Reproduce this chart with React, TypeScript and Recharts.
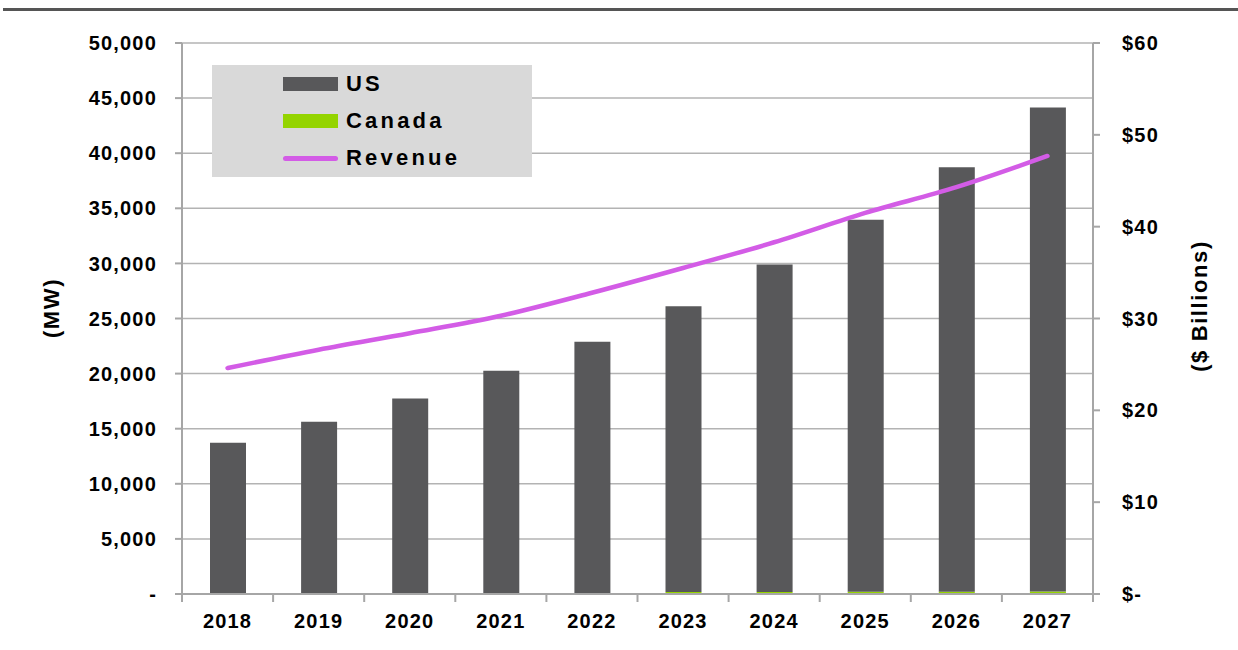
import React from 'react';
import {
  ComposedChart,
  Bar,
  Line,
  XAxis,
  YAxis,
  CartesianGrid,
} from 'recharts';

// values
const years = ['2018', '2019', '2020', '2021', '2022', '2023', '2024', '2025', '2026', '2027'];
const usMW = [13670, 15570, 17670, 20170, 22800, 25940, 29710, 33760, 38520, 43930];
const canadaMW = [50, 60, 70, 80, 90, 180, 190, 200, 210, 220];
const revenueBn = [24.6, 26.6, 28.4, 30.3, 32.8, 35.5, 38.3, 41.5, 44.3, 47.7];

const mwTicks = [0, 5000, 10000, 15000, 20000, 25000, 30000, 35000, 40000, 45000, 50000];
const bnTicks = [0, 10, 20, 30, 40, 50, 60];

const seriesNames = ['US', 'Canada', 'Revenue'];

const data = years.map((year, i) => ({
  year,
  us: usMW[i],
  canada: canadaMW[i],
  revenue: revenueBn[i],
}));

const W = 1238;
const H = 650;
const PLOT_LEFT = 182;
const PLOT_RIGHT = 1093;
const AXIS_Y = 594;

const FONT = '"Liberation Sans", Arial, sans-serif';
const GREY_AXIS = '#a6a6a6';
const US_COLOR = '#58585a';
const CANADA_COLOR = '#94d400';
const REVENUE_COLOR = '#d35ce6';

const tickStyle = {
  fontFamily: FONT,
  fontWeight: 700,
  fontSize: 20,
  fill: '#000',
  letterSpacing: 1.2,
};

const formatMW = (v: number) => (v === 0 ? '-' : v.toLocaleString('en-US'));
const formatBn = (v: number) => (v === 0 ? '$-' : `$${v}`);

// year labels centred on the bars, tick marks between categories
function YearTick(props: any) {
  const { x, payload, index } = props;
  const half = (PLOT_RIGHT - PLOT_LEFT) / years.length / 2;
  const i = index ?? payload.index;
  return (
    <g>
      <line x1={x - half} x2={x - half} y1={AXIS_Y} y2={AXIS_Y + 8} stroke={GREY_AXIS} strokeWidth={2} />
      {i === years.length - 1 && (
        <line x1={x + half} x2={x + half} y1={AXIS_Y} y2={AXIS_Y + 8} stroke={GREY_AXIS} strokeWidth={2} />
      )}
      <text x={x} y={628} textAnchor='middle' style={tickStyle}>
        {payload.value}
      </text>
    </g>
  );
}

function AxisTitle({ x, y, text }: { x: number; y: number; text: string }) {
  return (
    <text
      transform={`translate(${x},${y}) rotate(-90)`}
      textAnchor='middle'
      dominantBaseline='central'
      style={{ fontFamily: FONT, fontWeight: 700, fontSize: 22, fill: '#000', letterSpacing: 1.6 }}
    >
      {text}
    </text>
  );
}

function LegendBox() {
  const rows = [
    { name: seriesNames[0], kind: 'bar', color: US_COLOR, cy: 19 },
    { name: seriesNames[1], kind: 'bar', color: CANADA_COLOR, cy: 56 },
    { name: seriesNames[2], kind: 'line', color: REVENUE_COLOR, cy: 93 },
  ];
  return (
    <div
      style={{
        position: 'absolute',
        left: 212,
        top: 65,
        width: 320,
        height: 112,
        background: '#d9d9d9',
      }}
    >
      {rows.map((r) => (
        <React.Fragment key={r.name}>
          <div
            style={{
              position: 'absolute',
              left: 71,
              top: r.kind === 'bar' ? r.cy - 7 : r.cy - 2.5,
              width: 55,
              height: r.kind === 'bar' ? 14 : 5,
              borderRadius: r.kind === 'bar' ? 0 : 3,
              background: r.color,
            }}
          />
          <div
            style={{
              position: 'absolute',
              left: 134,
              top: r.cy - 13,
              height: 26,
              lineHeight: '26px',
              fontFamily: FONT,
              fontWeight: 700,
              fontSize: 22,
              letterSpacing: 3.2,
              color: '#000',
              whiteSpace: 'nowrap',
            }}
          >
            {r.name}
          </div>
        </React.Fragment>
      ))}
    </div>
  );
}

export default function App() {
  return (
    <div style={{ position: 'absolute', left: 0, top: 0, width: W, height: H, background: '#fff' }}>
      <div style={{ position: 'absolute', left: 3, top: 8, width: W - 3, height: 3, background: '#555' }} />

      <ComposedChart
        width={W}
        height={H}
        data={data}
        margin={{ top: 43, right: 45, bottom: 16, left: 82 }}
        barSize={36}
      >
        <CartesianGrid yAxisId='mw' vertical={false} stroke='#b3b3b3' strokeWidth={1.5} />

        <XAxis
          dataKey='year'
          height={40}
          axisLine={{ stroke: GREY_AXIS, strokeWidth: 2 }}
          tickLine={false}
          tick={<YearTick />}
          interval={0}
        />

        <YAxis
          yAxisId='mw'
          width={100}
          domain={[0, 50000]}
          ticks={mwTicks}
          tickFormatter={formatMW}
          axisLine={{ stroke: GREY_AXIS, strokeWidth: 2 }}
          tickLine={{ stroke: GREY_AXIS, strokeWidth: 2 }}
          tickSize={7}
          tickMargin={18}
          tick={tickStyle}
          interval={0}
          label={() => <AxisTitle x={51} y={308} text='(MW)' />}
        />

        <YAxis
          yAxisId='bn'
          orientation='right'
          width={100}
          domain={[0, 60]}
          ticks={bnTicks}
          tickFormatter={formatBn}
          axisLine={{ stroke: GREY_AXIS, strokeWidth: 2 }}
          tickLine={{ stroke: GREY_AXIS, strokeWidth: 2 }}
          tickSize={7}
          tickMargin={22}
          tick={tickStyle}
          interval={0}
          label={() => <AxisTitle x={1199} y={306} text='($ Billions)' />}
        />

        <Bar yAxisId='mw' dataKey='canada' name='Canada' stackId='mw' fill={CANADA_COLOR} isAnimationActive={false} />
        <Bar yAxisId='mw' dataKey='us' name='US' stackId='mw' fill={US_COLOR} isAnimationActive={false} />

        <Line
          yAxisId='bn'
          type='monotone'
          dataKey='revenue'
          name='Revenue'
          stroke={REVENUE_COLOR}
          strokeWidth={4.5}
          strokeLinecap='round'
          dot={false}
          activeDot={false}
          isAnimationActive={false}
        />
      </ComposedChart>

      <LegendBox />
    </div>
  );
}
